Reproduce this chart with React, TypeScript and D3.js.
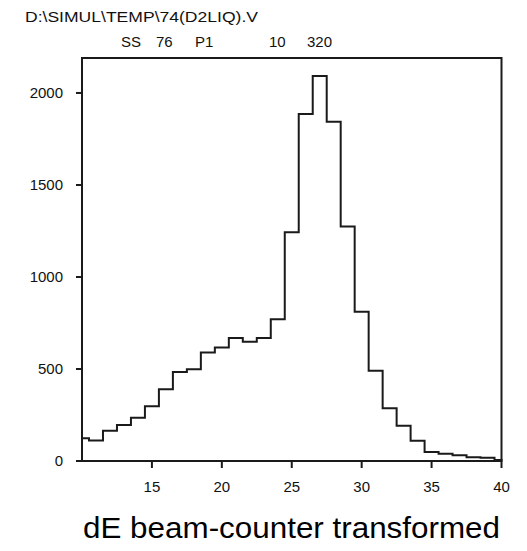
import React, { useEffect, useRef } from "react";
import * as d3 from "d3";

const binCenters = [10, 11, 12, 13, 14, 15, 16, 17, 18, 19, 20, 21, 22, 23, 24, 25, 26, 27, 28, 29, 30, 31, 32, 33, 34, 35, 36, 37, 38, 39, 40];
const counts = [123, 112, 165, 195, 235, 297, 390, 483, 498, 590, 617, 669, 648, 668, 770, 1243, 1886, 2092, 1844, 1275, 811, 491, 286, 192, 110, 49, 40, 31, 20, 18, 5];
const xTicks = [15, 20, 25, 30, 35, 40];
const yTicks = [0, 500, 1000, 1500, 2000];
const titleText = "D:\\SIMUL\\TEMP\\74(D2LIQ).V";
const infoTokens = ["SS", "76", "P1", "10", "320"];
const infoX = [121, 156, 195, 269, 307];
const xLabel = "dE beam-counter transformed";

const W = 527;
const H = 551;
const FONT = "'Liberation Sans', Arial, sans-serif";

export default function App() {
  const ref = useRef<SVGSVGElement>(null);

  useEffect(() => {
    const svg = d3.select(ref.current);
    svg.selectAll("*").remove();

    const x = d3.scaleLinear().domain([10, 40]).range([82, 501.5]);
    const y = d3.scaleLinear().domain([0, 2190]).range([461, 58]);

    // frame
    svg.append("rect")
      .attr("x", x(10)).attr("y", y(2190))
      .attr("width", x(40) - x(10)).attr("height", y(0) - y(2190))
      .attr("fill", "none").attr("stroke", "#1a1a1a").attr("stroke-width", 2);

    // histogram step outline
    const pts: [number, number][] = [[x(10), y(0)]];
    binCenters.forEach((c, i) => {
      const x0 = Math.max(10, c - 0.5);
      const x1 = Math.min(40, c + 0.5);
      pts.push([x(x0), y(counts[i])]);
      pts.push([x(x1), y(counts[i])]);
    });
    pts.push([x(40), y(0)]);
    svg.append("path")
      .attr("d", d3.line()(pts))
      .attr("fill", "none").attr("stroke", "#1a1a1a").attr("stroke-width", 2)
      .attr("stroke-linejoin", "miter");

    // x axis ticks
    const gx = svg.append("g");
    xTicks.forEach((t) => {
      gx.append("line").attr("x1", x(t)).attr("x2", x(t)).attr("y1", y(0)).attr("y2", y(0) + 7)
        .attr("stroke", "#1a1a1a").attr("stroke-width", 2);
      gx.append("text").attr("x", x(t)).attr("y", 492).attr("text-anchor", "middle")
        .attr("font-family", FONT).attr("font-size", 15).attr("fill", "#111").text(String(t));
    });

    // y axis ticks
    const gy = svg.append("g");
    yTicks.forEach((t) => {
      gy.append("line").attr("x1", x(10) - 6).attr("x2", x(10)).attr("y1", y(t)).attr("y2", y(t))
        .attr("stroke", "#1a1a1a").attr("stroke-width", 2);
      gy.append("text").attr("x", 63).attr("y", y(t)).attr("dy", "0.36em").attr("text-anchor", "end")
        .attr("font-family", FONT).attr("font-size", 15).attr("fill", "#111").text(String(t));
    });

    // header texts
    svg.append("text").attr("x", 25).attr("y", 22)
      .attr("font-family", FONT).attr("font-size", 15).attr("fill", "#111")
      .attr("textLength", 233).attr("lengthAdjust", "spacingAndGlyphs")
      .text(titleText);
    infoTokens.forEach((tok, i) => {
      svg.append("text").attr("x", infoX[i]).attr("y", 47)
        .attr("font-family", FONT).attr("font-size", 15).attr("fill", "#111").text(tok);
    });

    // bottom caption
    svg.append("text").attr("x", 83).attr("y", 538)
      .attr("font-family", FONT).attr("font-size", 30).attr("fill", "#000")
      .attr("textLength", 417).attr("lengthAdjust", "spacingAndGlyphs")
      .text(xLabel);
  }, []);

  return (
    <svg ref={ref} width={W} height={H}
      style={{ position: "absolute", left: 0, top: 0, background: "#fff" }} />
  );
}
